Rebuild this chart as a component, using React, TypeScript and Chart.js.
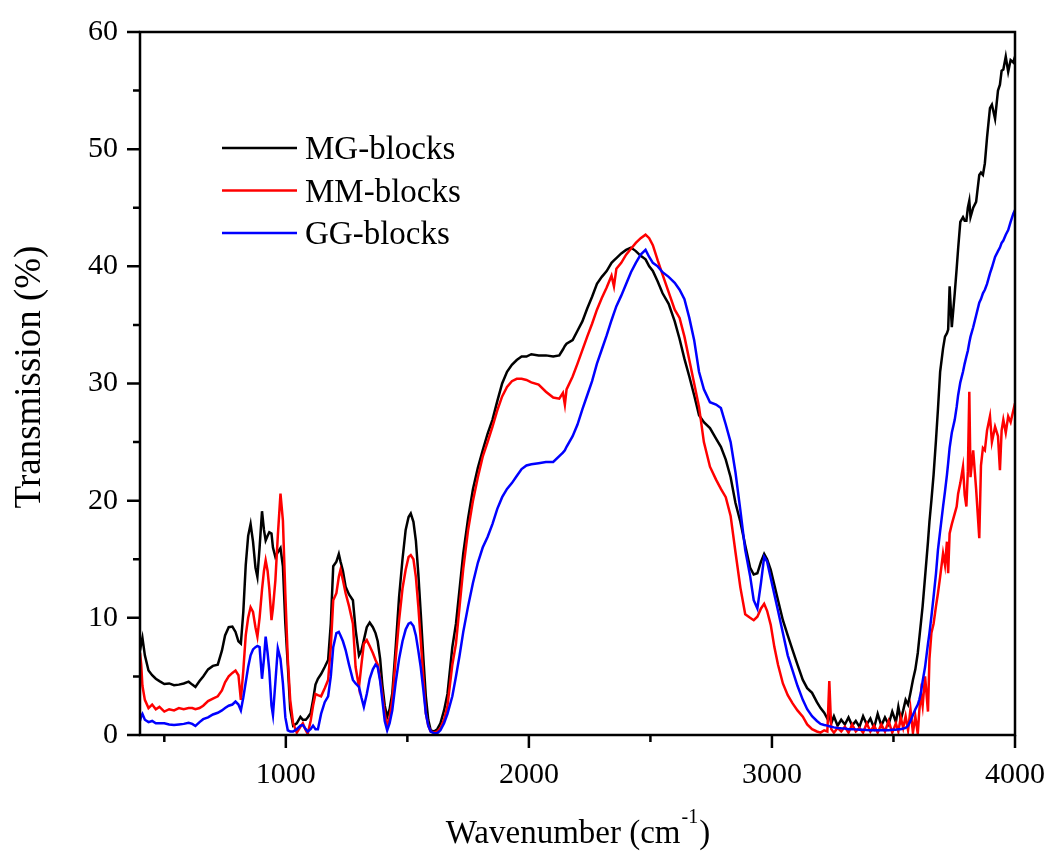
import React, { useEffect, useRef } from "react";
import { Chart, registerables } from "chart.js";

Chart.register(...registerables);

// Wavenumber grid (cm^-1) shared by the three spectra
const wavenumbers: number[] = [
  400, 405, 410, 420, 435, 450, 465, 480, 500, 520, 540, 560, 580, 600, 615, 628, 645, 660, 680, 700,
  720, 737, 750, 765, 780, 793, 805, 815, 825, 835, 845, 855, 865, 875, 883, 892, 902, 910, 917, 925,
  932, 941, 947, 957, 967, 978, 988, 998, 1008, 1018, 1030, 1045, 1060, 1070, 1082, 1090, 1102, 1112, 1122, 1132,
  1145, 1160, 1174, 1185, 1195, 1208, 1218, 1225, 1235, 1246, 1260, 1276, 1287, 1301, 1311, 1321, 1333, 1345, 1358, 1369,
  1378, 1388, 1397, 1407, 1417, 1427, 1438, 1452, 1466, 1480, 1493, 1505, 1514, 1525, 1535, 1545, 1555, 1566, 1576, 1586,
  1596, 1610, 1623, 1636, 1651, 1665, 1685, 1700, 1715, 1730, 1750, 1770, 1790, 1810, 1830, 1850, 1870, 1890, 1910, 1930,
  1950, 1970, 1990, 2010, 2040, 2070, 2100, 2125, 2140, 2148, 2155, 2180, 2200, 2220, 2240, 2260, 2280, 2300, 2320, 2340,
  2350, 2360, 2380, 2400, 2420, 2440, 2460, 2480, 2495, 2510, 2530, 2550, 2575, 2600, 2620, 2640, 2660, 2680, 2700, 2720,
  2745, 2770, 2790, 2810, 2830, 2850, 2870, 2890, 2910, 2925, 2940, 2955, 2968, 2980, 2995, 3010, 3025, 3045, 3065, 3085,
  3105, 3127, 3145, 3165, 3185, 3200, 3215, 3228, 3236, 3244, 3255, 3270, 3285, 3300, 3315, 3330, 3345, 3360, 3375, 3390,
  3405, 3420, 3435, 3450, 3465, 3480, 3495, 3510, 3520, 3530, 3540, 3550, 3560, 3570, 3580, 3590,
  3600, 3606, 3613, 3620, 3630, 3642, 3648, 3656, 3665, 3675, 3683, 3692, 3704, 3712, 3720, 3725, 3731, 3740, 3752, 3760,
  3766, 3775, 3786, 3793, 3800, 3806, 3812, 3817, 3828, 3840, 3853, 3860, 3868, 3876, 3885, 3897, 3905, 3918, 3930, 3938,
  3945, 3952, 3962, 3972, 3982, 3993, 4000,
];

const mgBlocks: number[] = [
  7.2, 7.8, 8.3, 6.8, 5.5, 5.1, 4.8, 4.6, 4.35, 4.4, 4.25, 4.3, 4.4, 4.55, 4.3, 4.1, 4.6, 5.0, 5.6, 5.9,
  6.0, 7.2, 8.5, 9.2, 9.25, 8.8, 8.0, 7.8, 10.5, 14.5, 17.0, 18.0, 16.5, 14.3, 13.5, 16.0, 19.1, 17.5, 16.6, 17.0,
  17.3, 17.2, 16.0, 15.2, 15.6, 15.95, 14.4, 9.5, 6.0, 2.2, 0.8, 1.0, 1.55, 1.3, 1.3, 1.5, 1.85, 3.0, 4.3, 4.8,
  5.2, 5.8, 6.4, 9.5, 14.4, 14.8, 15.45, 14.8, 14.0, 12.65, 12.0, 11.5, 9.0, 6.8, 7.2, 8.1, 9.2, 9.6, 9.2, 8.7,
  8.0, 6.5, 4.3, 2.5, 1.56, 2.2, 3.56, 7.5, 11.8, 15.0, 17.5, 18.6, 18.9, 18.2, 16.6, 13.8, 10.4, 6.5, 3.3, 1.3,
  0.4, 0.3, 0.5, 1.0, 2.1, 3.5, 7.5, 9.5, 12.5, 15.5, 18.5, 21.0, 22.8, 24.3, 25.7, 26.9, 28.5, 30.0, 31.0, 31.6,
  32.0, 32.3, 32.3, 32.5, 32.4, 32.4, 32.3, 32.4, 32.9, 33.2, 33.4, 33.7, 34.5, 35.3, 36.4, 37.4, 38.5, 39.1, 39.6, 40.3,
  40.5, 40.7, 41.1, 41.4, 41.6, 41.3, 40.9, 40.6, 40.0, 39.6, 38.7, 37.7, 36.8, 35.3, 33.8, 32.1, 30.6, 29.0, 27.3, 26.7,
  26.2, 25.3, 24.6, 23.5, 22.0, 19.8, 18.2, 16.2, 14.3, 13.7, 13.8, 14.8, 15.45, 15.0, 14.1, 12.8, 11.5, 9.8, 8.5, 7.25,
  6.0, 4.7, 4.0, 3.6, 2.8, 2.3, 1.9, 1.4, 1.7, 1.0, 1.6, 0.8, 1.3, 0.9, 1.5, 0.8, 1.2, 0.7, 1.6, 0.9,
  1.4, 0.6, 1.8, 0.8, 1.5, 0.9, 2.0, 1.1, 2.4, 1.3, 2.1, 3.0, 2.6, 3.6, 4.7, 5.6,
  7.0, 8.2, 9.6, 11.0, 13.5, 16.5, 18.2, 20.0, 22.2, 25.2, 27.8, 31.0, 33.0, 34.0, 34.3, 34.6, 38.3, 34.8, 37.7, 39.8,
  41.5, 43.8, 44.2, 43.9, 43.9, 45.0, 45.6, 44.2, 45.0, 45.5, 47.8, 48.0, 47.8, 48.8, 51.0, 53.5, 53.8, 52.6, 55.0, 55.5,
  56.7, 56.8, 57.9, 56.6, 57.6, 57.4, 57.9,
];

const mmBlocks: number[] = [
  7.0, 6.0, 4.2, 3.0, 2.3, 2.6, 2.2, 2.4, 2.0, 2.2, 2.1, 2.3, 2.2, 2.3, 2.3, 2.2, 2.3, 2.5, 2.9, 3.1,
  3.3, 3.8, 4.5, 5.0, 5.3, 5.5, 5.1, 3.0, 5.5, 8.5, 10.0, 10.9, 10.5, 9.2, 8.4, 10.0, 12.4, 14.0, 14.9, 14.0,
  12.5, 9.8, 10.8, 13.2, 17.0, 20.6, 18.3, 12.0, 6.5, 3.0, 1.0, 0.2, 0.7, 1.0, 0.4, 0.1, 1.2, 2.5, 3.5, 3.4,
  3.3, 4.0, 4.7, 7.5, 11.5, 12.1, 13.5, 14.1, 13.2, 12.1, 11.0, 9.5, 5.8, 4.1, 6.0, 7.8, 8.1, 7.6, 7.0, 6.4,
  6.0, 4.8, 3.5, 1.8, 0.7, 1.5, 3.0, 6.5, 9.8, 12.5, 14.1, 15.2, 15.35, 15.0, 13.5, 11.0, 8.1, 4.8, 1.85, 0.8,
  0.3, 0.2, 0.3, 0.6, 1.3, 2.5, 6.0, 7.8, 11.0, 14.2, 17.5, 20.0, 22.0, 23.75, 25.0, 26.3, 27.7, 28.9, 29.7, 30.2,
  30.4, 30.4, 30.3, 30.1, 29.9, 29.3, 28.8, 28.7, 29.2, 28.2, 29.5, 30.6, 31.7, 32.85, 34.0, 35.1, 36.3, 37.3, 38.2, 39.2,
  38.3, 39.8, 40.3, 41.0, 41.5, 42.0, 42.4, 42.7, 42.4, 41.8, 40.5, 39.3, 37.8, 36.3, 35.6, 34.0, 32.0, 30.0, 28.0, 25.0,
  22.9, 21.8, 21.0, 20.3, 18.7, 15.6, 12.6, 10.3, 10.0, 9.8, 10.1, 10.8, 11.2, 10.6, 9.4, 7.5, 6.0, 4.4, 3.4, 2.7,
  2.1, 1.56, 0.9, 0.5, 0.3, 0.2, 0.4, 0.3, 4.6, 0.5, 0.2, 0.6, 0.3, 0.7, 0.2, 0.9, 0.3, 0.6, 0.2, 1.0,
  0.3, 0.8, 0.2, 0.9, 0.3, 1.2, 0.2, 1.0, 0.3, 1.5, 0.6, 1.6, 0.4, 2.2, 0.2, 1.6,
  0.1, 2.0, 3.56, 2.5, 5.0, 2.0, 6.5, 8.7, 9.5, 11.0, 12.1, 13.5, 15.5, 14.5, 16.5, 13.8, 17.2, 18.0, 18.9, 19.5,
  20.6, 21.5, 22.9, 20.5, 19.5, 22.5, 29.3, 22.0, 24.3, 21.0, 16.8, 23.0, 24.5, 24.3, 26.0, 27.2, 25.0, 26.3, 25.5, 22.6,
  26.0, 26.9, 25.8, 27.2, 26.7, 27.7, 28.3,
];

const ggBlocks: number[] = [
  1.2, 1.6, 1.8, 1.3, 1.1, 1.2, 1.0, 1.0, 1.0, 0.9, 0.85, 0.9, 0.95, 1.05, 0.95, 0.77, 1.1, 1.35, 1.5, 1.75,
  1.9, 2.1, 2.3, 2.5, 2.6, 2.85, 2.6, 2.1, 3.2, 4.5, 5.8, 6.8, 7.3, 7.5, 7.6, 7.5, 4.8, 6.5, 8.4, 7.0,
  5.5, 2.5, 1.7, 4.5, 7.4, 6.5, 4.4, 1.5, 0.4, 0.3, 0.3, 0.5, 0.8, 0.85, 0.5, 0.3, 0.5, 0.8, 0.5, 0.5,
  1.8, 2.8, 3.3, 5.0, 7.5, 8.7, 8.8, 8.5, 8.0, 7.25, 6.0, 4.7, 4.4, 4.1, 3.2, 2.4, 3.5, 4.8, 5.6, 6.0,
  5.8, 4.6, 3.0, 1.2, 0.4, 1.0, 2.1, 4.5, 6.5, 8.0, 9.0, 9.5, 9.6, 9.3, 8.5, 7.2, 5.8, 3.8, 1.85, 0.8,
  0.3, 0.15, 0.15, 0.4, 1.0, 1.8, 3.3, 5.0, 6.8, 8.8, 11.0, 13.0, 14.7, 16.0, 16.9, 18.0, 19.3, 20.3, 21.0, 21.5,
  22.1, 22.7, 23.0, 23.1, 23.2, 23.3, 23.3, 23.8, 24.1, 24.3, 24.6, 25.5, 26.5, 27.8, 29.0, 30.2, 31.7, 32.9, 34.1, 35.4,
  36.0, 36.6, 37.5, 38.5, 39.5, 40.3, 41.0, 41.4, 40.8, 40.3, 40.0, 39.5, 39.1, 38.6, 38.0, 37.2, 35.6, 33.7, 31.0, 29.5,
  28.4, 28.2, 27.9, 26.5, 25.0, 22.4, 19.2, 15.8, 13.6, 11.5, 10.8, 13.0, 15.2, 14.8, 13.4, 12.0, 10.6, 8.7, 6.8, 5.5,
  4.2, 3.0, 2.2, 1.6, 1.2, 0.95, 0.85, 0.8, 0.75, 0.7, 0.65, 0.6, 0.57, 0.55, 0.5, 0.5, 0.48, 0.45, 0.45, 0.42,
  0.4, 0.4, 0.4, 0.4, 0.42, 0.4, 0.45, 0.45, 0.5, 0.5, 0.55, 0.6, 0.8, 1.2, 1.7, 2.2,
  2.6, 3.0, 3.6, 4.6, 5.8, 7.8, 8.7, 10.1, 11.8, 13.8, 15.8, 17.4, 19.5, 20.8, 22.2, 23.2, 24.5, 25.8, 26.9, 28.0,
  29.0, 30.1, 31.0, 31.7, 32.3, 32.8, 33.5, 34.0, 34.8, 35.8, 36.9, 37.2, 37.7, 38.0, 38.5, 39.4, 39.9, 40.8, 41.3, 41.6,
  42.0, 42.2, 42.7, 43.1, 43.8, 44.5, 44.8,
];

const seriesLabels: string[] = ["MG-blocks", "MM-blocks", "GG-blocks"];
const seriesColors: string[] = ["#000000", "#ff0000", "#0000ff"];
const xTickValues: number[] = [500, 1000, 1500, 2000, 2500, 3000, 3500, 4000];
const xLabelValues: number[] = [1000, 2000, 3000, 4000];
const yTickValues: number[] = [0, 5, 10, 15, 20, 25, 30, 35, 40, 45, 50, 55, 60];
const yLabelValues: number[] = [0, 10, 20, 30, 40, 50, 60];
const yTitle = "Transmission (%)";
const xTitleMain = "Wavenumber (cm";
const xTitleSup = "-1";
const xTitleEnd = ")";

const FONT = "'Liberation Serif', 'Times New Roman', serif";

const framePlugin = {
  id: "frameTicks",
  afterDraw(chart: any) {
    const { ctx, chartArea } = chart;
    const xs = chart.scales.x;
    const ys = chart.scales.y;
    ctx.save();
    ctx.strokeStyle = "#000";
    ctx.lineWidth = 2.5;
    ctx.lineCap = "butt";
    ctx.strokeRect(chartArea.left, chartArea.top, chartArea.right - chartArea.left, chartArea.bottom - chartArea.top);
    ctx.beginPath();
    xTickValues.forEach((v) => {
      const px = xs.getPixelForValue(v);
      const len = xLabelValues.includes(v) ? 13 : 7;
      ctx.moveTo(px, chartArea.bottom);
      ctx.lineTo(px, chartArea.bottom + len);
    });
    yTickValues.forEach((v) => {
      const py = ys.getPixelForValue(v);
      const len = yLabelValues.includes(v) ? 13 : 7;
      ctx.moveTo(chartArea.left, py);
      ctx.lineTo(chartArea.left - len, py);
    });
    ctx.stroke();

    // axis titles
    ctx.fillStyle = "#000";
    ctx.save();
    ctx.font = `37px ${FONT}`;
    ctx.translate(30, 377);
    ctx.rotate(-Math.PI / 2);
    ctx.textAlign = "center";
    ctx.textBaseline = "middle";
    ctx.fillText(yTitle, 0, 0);
    ctx.restore();

    ctx.textBaseline = "alphabetic";
    ctx.textAlign = "left";
    ctx.font = `33px ${FONT}`;
    const wMain = ctx.measureText(xTitleMain).width;
    const wEnd = ctx.measureText(xTitleEnd).width;
    ctx.font = `20px ${FONT}`;
    const wSup = ctx.measureText(xTitleSup).width;
    const total = wMain + wSup + wEnd + 2;
    const startX = 578 - total / 2;
    const base = 843;
    ctx.font = `33px ${FONT}`;
    ctx.fillText(xTitleMain, startX, base);
    ctx.font = `20px ${FONT}`;
    ctx.fillText(xTitleSup, startX + wMain + 1, base - 20);
    ctx.font = `33px ${FONT}`;
    ctx.fillText(xTitleEnd, startX + wMain + wSup + 2, base);

    // legend
    chart.data.datasets.forEach((ds: any, i: number) => {
      const ly = 148 + i * 42.5;
      ctx.strokeStyle = ds.borderColor;
      ctx.lineWidth = 2.5;
      ctx.beginPath();
      ctx.moveTo(222, ly);
      ctx.lineTo(297, ly);
      ctx.stroke();
      ctx.fillStyle = "#000";
      ctx.font = `33px ${FONT}`;
      ctx.textAlign = "left";
      ctx.textBaseline = "alphabetic";
      ctx.fillText(ds.label, 305, ly + 11);
    });
    ctx.restore();
  },
};

const zeroPad = (s: any) => {
  s.paddingLeft = 0;
  s.paddingRight = 0;
  s.paddingTop = 0;
  s.paddingBottom = 0;
};

export default function App() {
  const canvasRef = useRef<HTMLCanvasElement | null>(null);

  useEffect(() => {
    if (!canvasRef.current) return;
    const seriesValues = [mgBlocks, mmBlocks, ggBlocks];
    const datasets = seriesValues.map((vals, i) => ({
      label: seriesLabels[i],
      data: wavenumbers.map((w, k) => ({ x: w, y: vals[k] })),
      borderColor: seriesColors[i],
      backgroundColor: seriesColors[i],
      borderWidth: 2.5,
      pointRadius: 0,
      showLine: true,
      tension: 0,
      fill: false,
      order: 2 - i,
    }));

    const chart = new Chart(canvasRef.current, {
      type: "scatter",
      data: { datasets },
      options: {
        animation: false,
        responsive: true,
        maintainAspectRatio: false,
        layout: { padding: { top: 32, right: 34, left: 0, bottom: 0 } },
        plugins: { legend: { display: false }, tooltip: { enabled: false } },
        scales: {
          x: {
            type: "linear",
            min: 400,
            max: 4000,
            afterBuildTicks: (s: any) => {
              s.ticks = xTickValues.map((v) => ({ value: v }));
            },
            afterFit: (s: any) => {
              s.height = 117;
              zeroPad(s);
            },
            ticks: {
              autoSkip: false,
              maxRotation: 0,
              minRotation: 0,
              padding: 22,
              color: "#000",
              font: { family: FONT, size: 30 },
              callback: (v: any) => (xLabelValues.includes(Number(v)) ? String(v) : ""),
            },
            grid: { display: false, drawTicks: false },
            border: { display: false },
          },
          y: {
            type: "linear",
            min: 0,
            max: 60,
            afterBuildTicks: (s: any) => {
              s.ticks = yTickValues.map((v) => ({ value: v }));
            },
            afterFit: (s: any) => {
              s.width = 140;
              zeroPad(s);
            },
            ticks: {
              autoSkip: false,
              padding: 22,
              color: "#000",
              font: { family: FONT, size: 30 },
              callback: (v: any) => (yLabelValues.includes(Number(v)) ? String(v) : ""),
            },
            grid: { display: false, drawTicks: false },
            border: { display: false },
          },
        },
      },
      plugins: [framePlugin],
    });
    return () => chart.destroy();
  }, []);

  return (
    <div style={{ position: "absolute", left: 0, top: 0, width: 1049, height: 852, background: "#fff" }}>
      <canvas ref={canvasRef} />
    </div>
  );
}
